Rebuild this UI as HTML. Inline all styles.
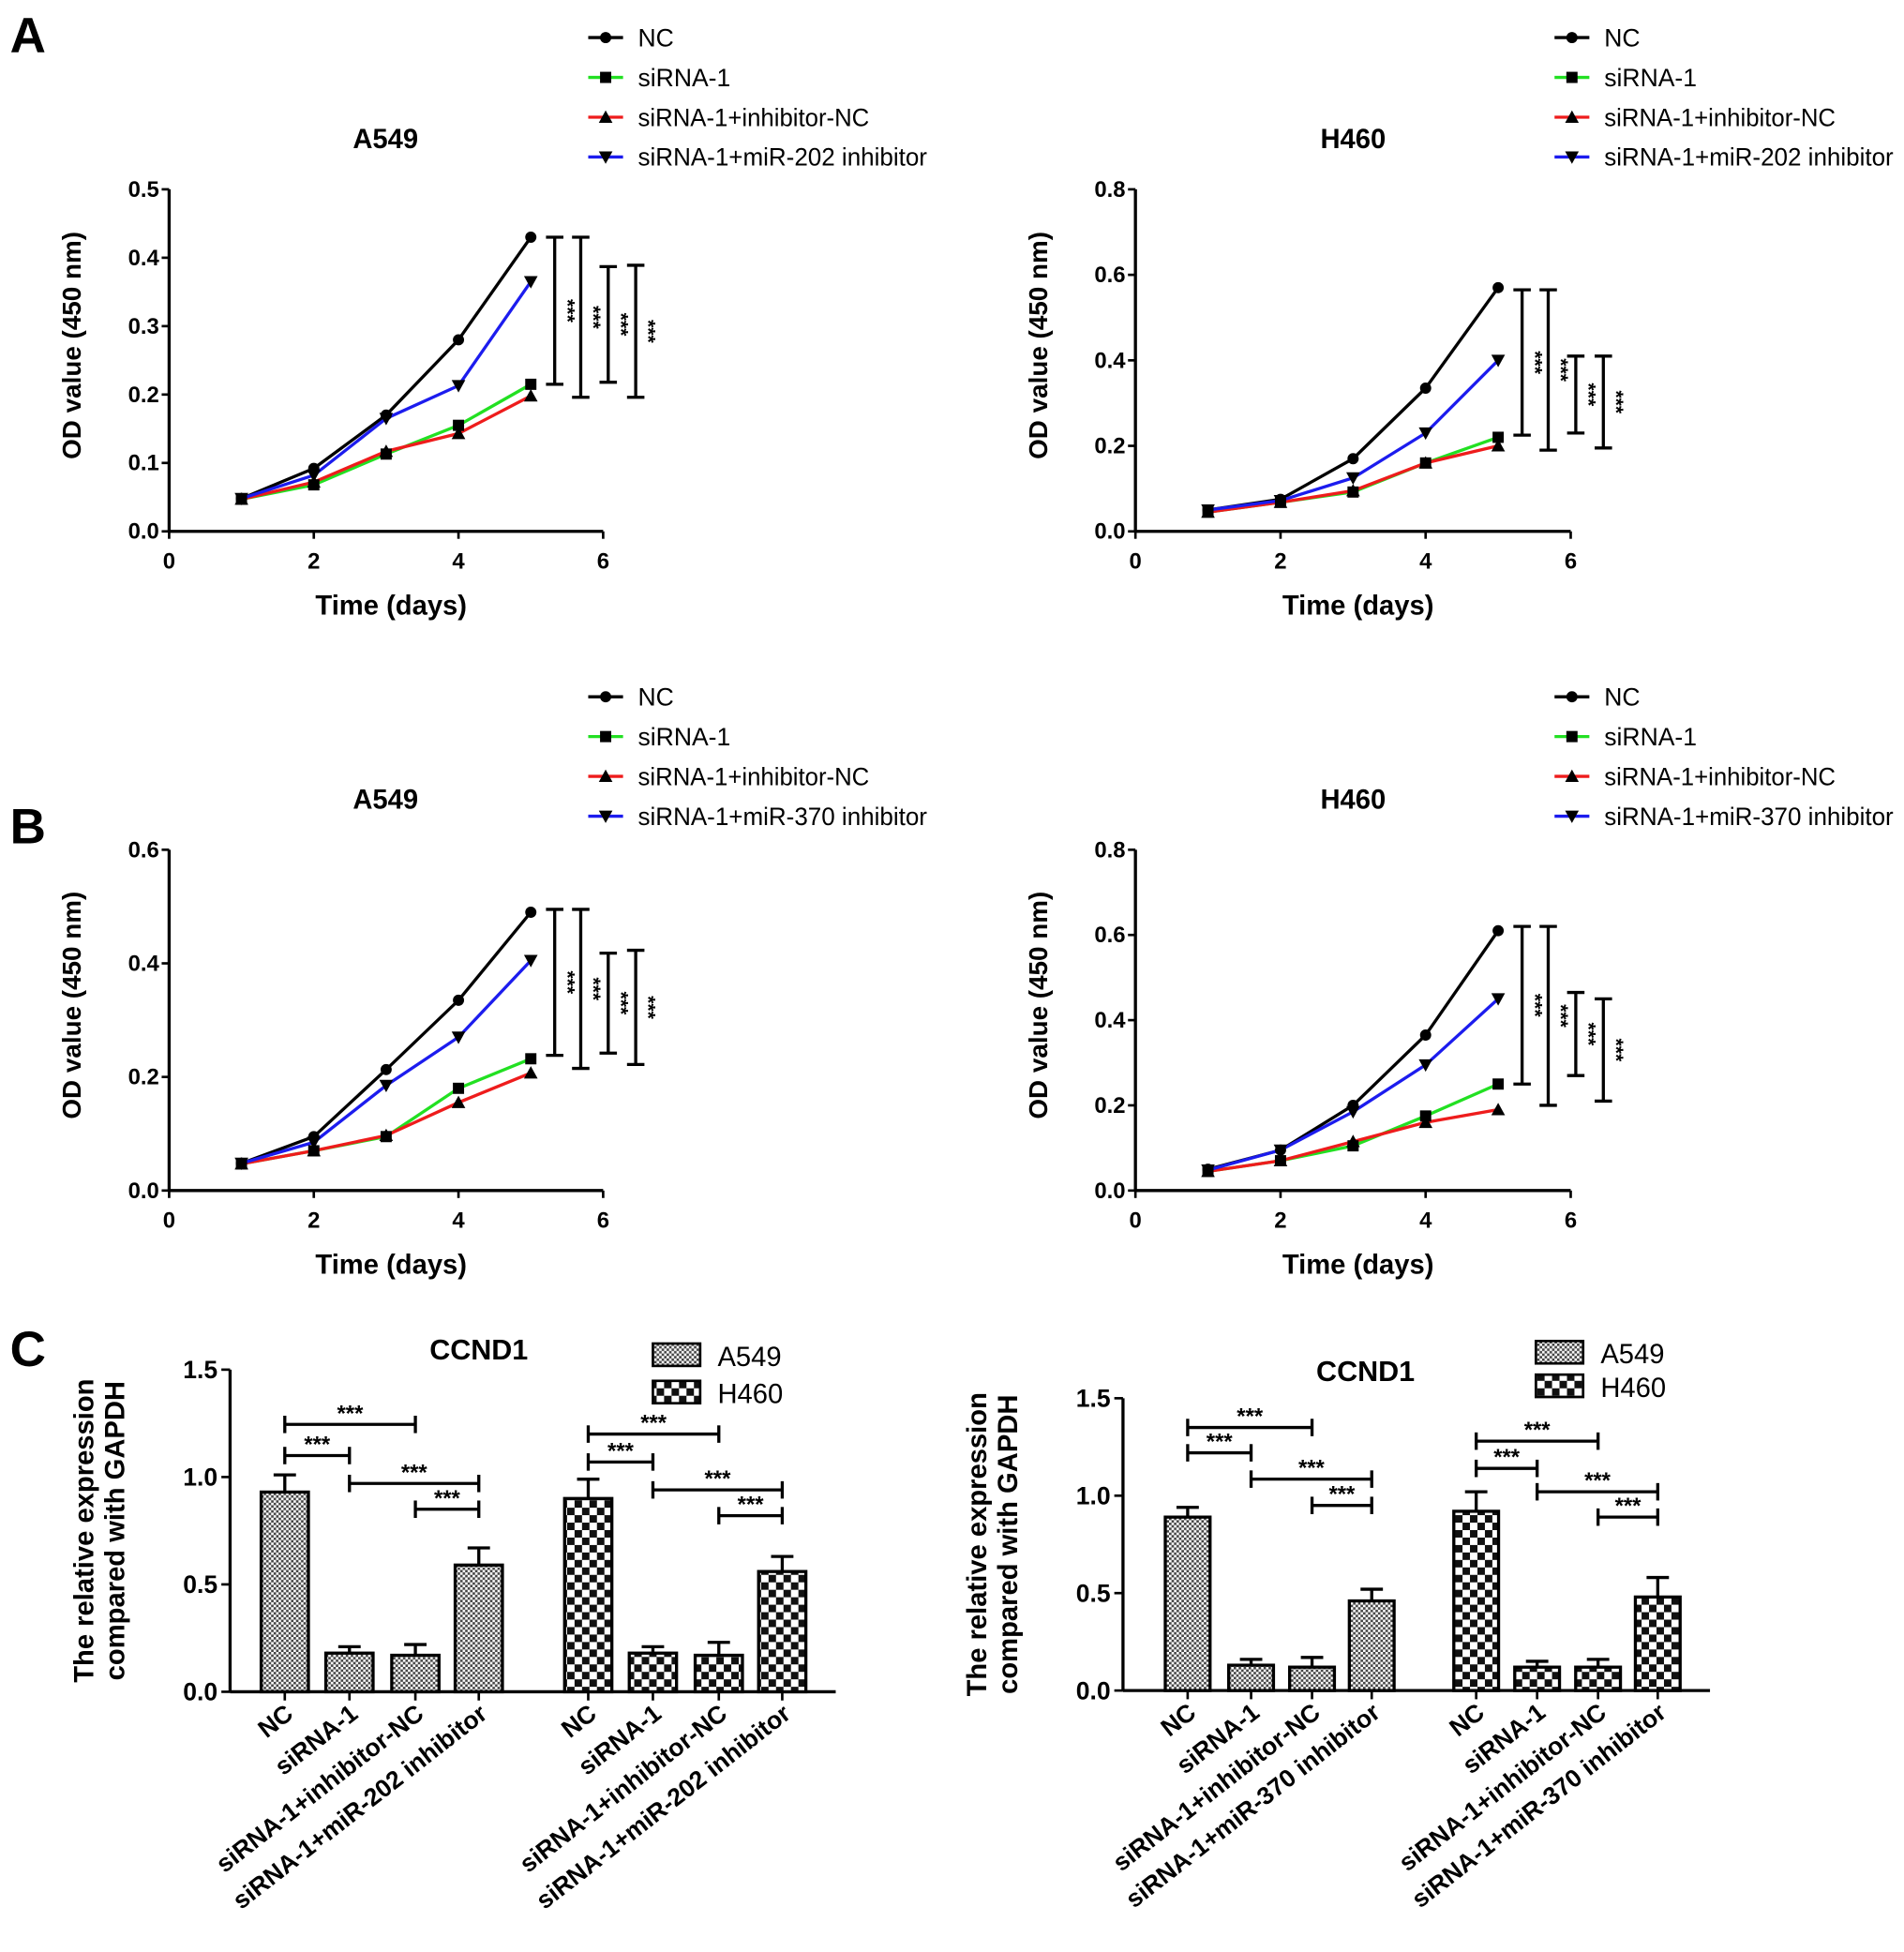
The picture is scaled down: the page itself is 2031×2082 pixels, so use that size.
<!DOCTYPE html>
<html><head><meta charset="utf-8"><style>
body{margin:0;background:#fff}
svg{display:block;font-family:"Liberation Sans",Arial,sans-serif}
.b{font-weight:bold}
</style></head><body>
<svg id="fig" width="2031" height="2082" viewBox="0 0 1531 1569" xmlns="http://www.w3.org/2000/svg">
<defs>
<pattern id="pA" width="4" height="4" patternUnits="userSpaceOnUse"><rect width="4" height="4" fill="#fff"/><rect width="2" height="2" fill="#444"/><rect x="2" y="2" width="2" height="2" fill="#444"/></pattern>
<pattern id="pH" width="12" height="12" patternUnits="userSpaceOnUse"><rect width="12" height="12" fill="#fff"/><rect width="6" height="6" fill="#111"/><rect x="6" y="6" width="6" height="6" fill="#111"/></pattern>
</defs>
<text x="8" y="42" font-size="40" class="b">A</text>
<text x="8" y="678" font-size="40" class="b">B</text>
<text x="8" y="1098" font-size="40" class="b">C</text>
<g id="root"></g>
</svg>
<script>
// ---- line chart data ----
const days = [1,2,3,4,5];
const seriesNames202 = ["NC","siRNA-1","siRNA-1+inhibitor-NC","siRNA-1+miR-202 inhibitor"];
const seriesNames370 = ["NC","siRNA-1","siRNA-1+inhibitor-NC","siRNA-1+miR-370 inhibitor"];
const aA549_NC = [0.048,0.092,0.17,0.28,0.43];
const aA549_si = [0.047,0.068,0.113,0.155,0.215];
const aA549_inh = [0.047,0.072,0.117,0.143,0.198];
const aA549_mir = [0.048,0.082,0.165,0.213,0.365];
const aH460_NC = [0.05,0.075,0.17,0.335,0.57];
const aH460_si = [0.045,0.068,0.092,0.16,0.22];
const aH460_inh = [0.045,0.068,0.095,0.16,0.2];
const aH460_mir = [0.05,0.072,0.125,0.23,0.4];
const bA549_NC = [0.048,0.095,0.213,0.335,0.49];
const bA549_si = [0.047,0.07,0.095,0.18,0.232];
const bA549_inh = [0.047,0.07,0.097,0.155,0.207];
const bA549_mir = [0.048,0.085,0.185,0.27,0.405];
const bH460_NC = [0.05,0.095,0.2,0.365,0.61];
const bH460_si = [0.045,0.07,0.105,0.175,0.25];
const bH460_inh = [0.045,0.07,0.115,0.16,0.19];
const bH460_mir = [0.048,0.095,0.185,0.295,0.45];
const bracketX = [5.33,5.69,6.07,6.45];
const aA549_br = [[0.43,0.215],[0.43,0.196],[0.387,0.218],[0.389,0.196]];
const aH460_br = [[0.565,0.225],[0.565,0.19],[0.41,0.23],[0.41,0.195]];
const bA549_br = [[0.495,0.238],[0.495,0.215],[0.418,0.242],[0.423,0.222]];
const bH460_br = [[0.62,0.25],[0.62,0.2],[0.465,0.27],[0.45,0.21]];
const xTicks = [0,2,4,6];
const yTicks05 = [0.0,0.1,0.2,0.3,0.4,0.5];
const yTicks06 = [0.0,0.2,0.4,0.6];
const yTicks08 = [0.0,0.2,0.4,0.6,0.8];
// ---- bar chart data ----
const barCats202 = ["NC","siRNA-1","siRNA-1+inhibitor-NC","siRNA-1+miR-202 inhibitor"];
const barCats370 = ["NC","siRNA-1","siRNA-1+inhibitor-NC","siRNA-1+miR-370 inhibitor"];
const c1_A549 = [0.93,0.18,0.17,0.59];
const c1_A549_err = [0.08,0.03,0.05,0.08];
const c1_H460 = [0.9,0.18,0.17,0.56];
const c1_H460_err = [0.09,0.03,0.06,0.07];
const c2_A549 = [0.89,0.13,0.12,0.46];
const c2_A549_err = [0.05,0.03,0.05,0.06];
const c2_H460 = [0.92,0.12,0.12,0.48];
const c2_H460_err = [0.1,0.03,0.04,0.1];
const barYTicks = [0.0,0.5,1.0,1.5];
const c1_br_A = [1.245,1.1,0.97,0.85];
const c1_br_H = [1.2,1.07,0.94,0.82];
const c2_br_A = [1.35,1.22,1.085,0.95];
const c2_br_H = [1.28,1.14,1.02,0.89];

const NS="http://www.w3.org/2000/svg";
const root=document.getElementById('root');
function el(tag,attrs,parent,txt){const e=document.createElementNS(NS,tag);for(const k in attrs)e.setAttribute(k,attrs[k]);if(txt!==undefined)e.textContent=txt;(parent||root).appendChild(e);return e;}
const colors=["#000","#22e022","#ee1c1c","#1c1cee"];

function marker(g,type,x,y,s){
  if(type===0) return el('circle',{cx:x,cy:y,r:s,fill:'#000'},g);
  if(type===1) return el('rect',{x:x-s,y:y-s,width:2*s,height:2*s,fill:'#000'},g);
  if(type===2) return el('polygon',{points:`${x},${y-s-1} ${x-s-1},${y+s} ${x+s+1},${y+s}`,fill:'#000'},g);
  return el('polygon',{points:`${x},${y+s+1} ${x-s-1},${y-s} ${x+s+1},${y-s}`,fill:'#000'},g);
}

function lineChart(o){
  const g=el('g',{});
  
  
  const sx=v=>o.x0+(v/6)*(o.x1-o.x0);
  const sy=v=>o.y0-(v/o.ymax)*(o.y0-o.y1);
  el('line',{x1:o.x0,y1:o.y0,x2:o.x1,y2:o.y0,stroke:'#000','stroke-width':2.5},g);
  el('line',{x1:o.x0,y1:o.y0,x2:o.x0,y2:o.y1,stroke:'#000','stroke-width':2.5},g);
  xTicks.forEach(t=>{el('line',{x1:sx(t),y1:o.y0,x2:sx(t),y2:o.y0+6,stroke:'#000','stroke-width':2},g);
    const tt=el('text',{x:sx(t),y:o.y0+30,'font-size':18,'font-weight':'bold','text-anchor':'middle'},g,t);
    });
  o.yTicks.forEach(t=>{el('line',{x1:o.x0-6,y1:sy(t),x2:o.x0,y2:sy(t),stroke:'#000','stroke-width':2},g);
    const tt=el('text',{x:o.x0-8,y:sy(t)+6,'font-size':18,'font-weight':'bold','text-anchor':'end'},g,t.toFixed(1));
    });
  const xt=el('text',{x:(o.x0+o.x1)/2+4,y:o.y0+67,'font-size':22,'font-weight':'bold','text-anchor':'middle'},g,'Time (days)');
  
  const yt=el('text',{x:0,y:0,'font-size':21,'font-weight':'bold','text-anchor':'middle',transform:`translate(${o.x0-71},${(o.y0+o.y1)/2-12}) rotate(-90)`},g,'OD value (450 nm)');
  
  const ti=el('text',{x:o.titleX,y:o.y1-33,'font-size':22,'font-weight':'bold','text-anchor':'middle'},g,o.title);
  
  o.series.forEach((s,i)=>{
    const pts=days.map((d,j)=>sx(d)+','+sy(s[j])).join(' ');
    const pl=el('polyline',{points:pts,fill:'none',stroke:colors[i],'stroke-width':2.5},g);
    
  });
  o.series.forEach((s,i)=>{days.forEach((d,j)=>{const m=marker(g,i,sx(d),sy(s[j]),4.5);});});
  o.brackets.forEach((b,i)=>{
    const x=sx(bracketX[i]);
    el('line',{x1:x,y1:sy(b[0]),x2:x,y2:sy(b[1]),stroke:'#000','stroke-width':2.5},g);
    el('line',{x1:x-7,y1:sy(b[0]),x2:x+7,y2:sy(b[0]),stroke:'#000','stroke-width':2.5},g);
    el('line',{x1:x-7,y1:sy(b[1]),x2:x+7,y2:sy(b[1]),stroke:'#000','stroke-width':2.5},g);
    const st=el('text',{x:0,y:0,'font-size':16,'font-weight':'bold','text-anchor':'middle',transform:`translate(${x+5},${(sy(b[0])+sy(b[1]))/2}) rotate(90)`},g,'***');
    
  });
  o.names.forEach((n,i)=>{
    const y=o.legY+i*32;
    const lg=el('g',{},g);
    
    
    el('line',{x1:o.legX,y1:y,x2:o.legX+28,y2:y,stroke:colors[i],'stroke-width':2.5},lg);
    marker(lg,i,o.legX+14,y,4.5);
    const t=el('text',{x:o.legX+40,y:y+7,'font-size':20},lg,n);
    if(n.length>8){
      t.setAttribute('textLength', n.length*9.3);
      t.setAttribute('lengthAdjust','spacingAndGlyphs');
    }
  });
}

lineChart({name:'chart-a-a549',x0:136,x1:485,y0:427,y1:152,ymax:0.5,yTicks:yTicks05,title:'A549',titleX:310,
  series:[aA549_NC,aA549_si,aA549_inh,aA549_mir],brackets:aA549_br,names:seriesNames202,legX:473,legY:30});
lineChart({name:'chart-a-h460',x0:913,x1:1263,y0:427,y1:152,ymax:0.8,yTicks:yTicks08,title:'H460',titleX:1088,
  series:[aH460_NC,aH460_si,aH460_inh,aH460_mir],brackets:aH460_br,names:seriesNames202,legX:1250,legY:30});
lineChart({name:'chart-b-a549',x0:136,x1:485,y0:957,y1:683,ymax:0.6,yTicks:yTicks06,title:'A549',titleX:310,
  series:[bA549_NC,bA549_si,bA549_inh,bA549_mir],brackets:bA549_br,names:seriesNames370,legX:473,legY:560});
lineChart({name:'chart-b-h460',x0:913,x1:1263,y0:957,y1:683,ymax:0.8,yTicks:yTicks08,title:'H460',titleX:1088,
  series:[bH460_NC,bH460_si,bH460_inh,bH460_mir],brackets:bH460_br,names:seriesNames370,legX:1250,legY:560});

function barChart(o){
  const g=el('g',{});
  
  
  const sy=v=>o.y0-(v/1.5)*(o.y0-o.y1);
  el('line',{x1:o.ax,y1:o.y0,x2:o.axEnd,y2:o.y0,stroke:'#000','stroke-width':2.5},g);
  el('line',{x1:o.ax,y1:o.y0,x2:o.ax,y2:o.y1,stroke:'#000','stroke-width':2.5},g);
  barYTicks.forEach(t=>{el('line',{x1:o.ax-7,y1:sy(t),x2:o.ax,y2:sy(t),stroke:'#000','stroke-width':2},g);
    const tt=el('text',{x:o.ax-10,y:sy(t)+7,'font-size':20,'font-weight':'bold','text-anchor':'end'},g,t.toFixed(1));
    });
  const yt=el('text',{x:0,y:0,'font-size':22,'font-weight':'bold','text-anchor':'middle',transform:`translate(${o.ax-110},${(o.y0+sy(1.5))/2}) rotate(-90)`},g);
  
  el('tspan',{x:0,dy:0},yt,'The relative expression');
  el('tspan',{x:0,dy:25},yt,'compared with GAPDH');
  const ti=el('text',{x:o.titleX,y:o.titleY,'font-size':23,'font-weight':'bold','text-anchor':'middle'},g,'CCND1');
  
  const groups=[[o.A,o.Aerr,'url(#pA)',o.xA,o.brA],[o.H,o.Herr,'url(#pH)',o.xH,o.brH]];
  groups.forEach(([vals,errs,fill,xs,br])=>{
    vals.forEach((v,i)=>{
      const x=xs[i];
      el('line',{x1:x,y1:sy(v),x2:x,y2:sy(v+errs[i]),stroke:'#000','stroke-width':2.5},g);
      el('line',{x1:x-9,y1:sy(v+errs[i]),x2:x+9,y2:sy(v+errs[i]),stroke:'#000','stroke-width':2.5},g);
      const r=el('rect',{x:x-o.bw/2,y:sy(v),width:o.bw,height:o.y0-sy(v),fill:fill,stroke:'#000','stroke-width':2.5},g);
      
      el('line',{x1:x,y1:o.y0,x2:x,y2:o.y0+7,stroke:'#000','stroke-width':2},g);
      const lt=el('text',{x:0,y:0,'font-size':20,'font-weight':'bold','text-anchor':'end',transform:`translate(${x+8},${o.y0+20}) rotate(-38)`},g,o.cats[i]);
      
    });
    const pairs=[[0,2],[0,1],[1,3],[2,3]];
    pairs.forEach((p,k)=>{
      const y=sy(br[k]);const xa=xs[p[0]],xb=xs[p[1]];
      el('line',{x1:xa,y1:y,x2:xb,y2:y,stroke:'#000','stroke-width':2.5},g);
      el('line',{x1:xa,y1:y-7,x2:xa,y2:y+7,stroke:'#000','stroke-width':2.5},g);
      el('line',{x1:xb,y1:y-7,x2:xb,y2:y+7,stroke:'#000','stroke-width':2.5},g);
      const st=el('text',{x:(xa+xb)/2,y:y-3,'font-size':18,'font-weight':'bold','text-anchor':'middle'},g,'***');
      
    });
  });
  [['A549','url(#pA)'],['H460','url(#pH)']].forEach((l,i)=>{
    const lg=el('g',{},g);
    
    
    el('rect',{x:o.legX,y:o.legY+i*o.legGap,width:38,height:18,fill:l[1],stroke:'#000','stroke-width':2},lg);
    el('text',{x:o.legX+52,y:o.legY+i*o.legGap+18,'font-size':22},lg,l[0]);
  });
}
barChart({name:'chart-c-left',ax:185,axEnd:672,y0:1360,y1:1101,bw:38,cats:barCats202,
  A:c1_A549,Aerr:c1_A549_err,H:c1_H460,Herr:c1_H460_err,xA:[229,281,334,385],xH:[473,525,578,629],
  brA:c1_br_A,brH:c1_br_H,titleX:385,titleY:1093,legX:525,legY:1080,legGap:30});
barChart({name:'chart-c-right',ax:903,axEnd:1375,y0:1359,y1:1124,bw:36,cats:barCats370,
  A:c2_A549,Aerr:c2_A549_err,H:c2_H460,Herr:c2_H460_err,xA:[955,1006,1055,1103],xH:[1187,1236,1285,1333],
  brA:c2_br_A,brH:c2_br_H,titleX:1098,titleY:1110,legX:1235,legY:1078,legGap:27});
</script>
</body></html>
